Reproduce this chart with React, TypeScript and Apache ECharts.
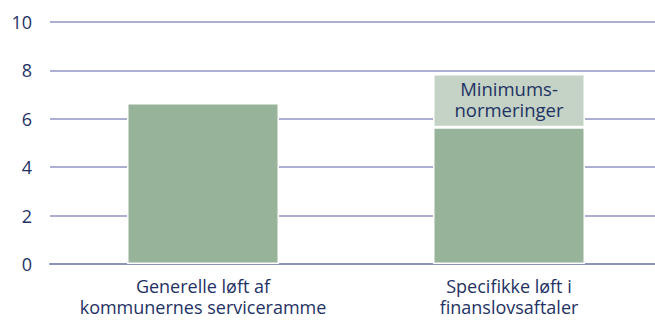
import React, { useEffect, useRef } from "react";
import * as echarts from "echarts";

const categories = ["Generelle løft af\nkommunernes serviceramme", "Specifikke løft i\nfinanslovsaftaler"];
const baseValues = [6.65, 5.65];
const extraValues = [null, 2.2];
const extraLabel = "Minimums-\nnormeringer";
const yTicks = [0, 2, 4, 6, 8, 10];

const TEXT = "#1F3264";
const FONT = "Open Sans";

export default function App() {
  const ref = useRef<HTMLDivElement>(null);
  useEffect(() => {
    const chart = echarts.init(ref.current!, null, { renderer: "svg" });
    chart.setOption({
      animation: false,
      grid: { left: 50, width: 612, top: 22, bottom: 56, outerBoundsMode: "none", containLabel: false },
      xAxis: {
        type: "category",
        data: categories,
        axisTick: { show: false },
        axisLine: { lineStyle: { color: "#8E93BE", width: 2 } },
        axisLabel: { interval: 0, hideOverlap: false, color: TEXT, fontFamily: FONT, fontSize: 18, lineHeight: 20.5, margin: 12 },
      },
      yAxis: {
        type: "value",
        min: yTicks[0],
        max: yTicks[yTicks.length - 1],
        interval: 2,
        axisLine: { show: false },
        axisTick: { show: false },
        splitLine: { lineStyle: { color: "#9094C2", width: 1.5 } },
        axisLabel: { color: TEXT, fontFamily: FONT, fontSize: 18, margin: 18 },
      },
      series: [
        {
          type: "bar",
          stack: "a",
          data: baseValues,
          barWidth: 152,
          itemStyle: { color: "#97B39A", borderColor: "#ffffff", borderWidth: 1.5 },
        },
        {
          type: "bar",
          stack: "a",
          data: extraValues,
          barWidth: 152,
          itemStyle: { color: "#C4D3C5", borderColor: "#ffffff", borderWidth: 1.5 },
          label: {
            show: true,
            position: "insideTop",
            distance: 3.5,
            formatter: () => extraLabel,
            color: TEXT,
            fontFamily: FONT,
            fontSize: 18.5,
            lineHeight: 21,
          },
        },
      ],
    });
    return () => chart.dispose();
  }, []);
  return <div ref={ref} style={{ position: "absolute", left: 0, top: 0, width: 655, height: 320 }} />;
}
